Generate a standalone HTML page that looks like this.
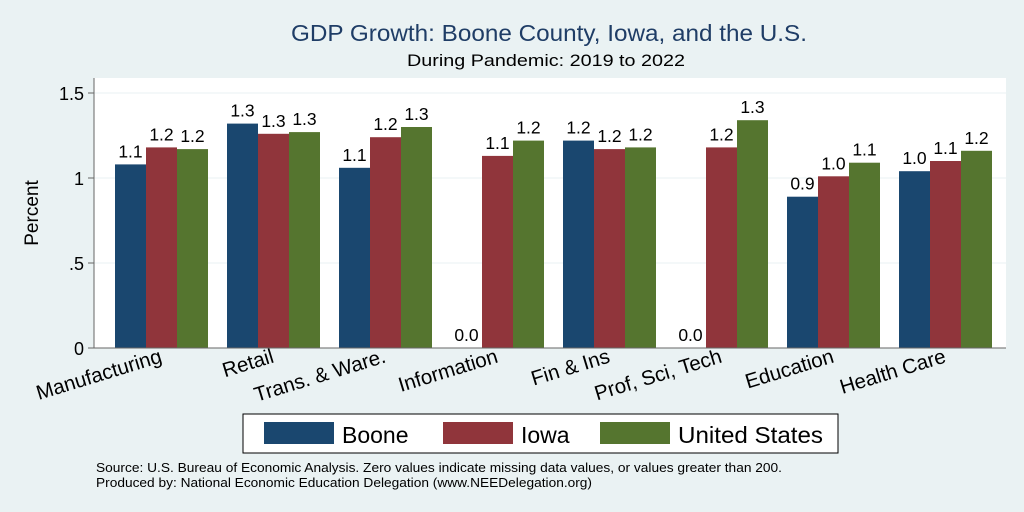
<!DOCTYPE html>
<html><head><meta charset="utf-8"><style>body{margin:0;background:#eaf2f3}svg{display:block;font-family:"Liberation Sans",sans-serif}</style></head>
<body>
<svg width="1024" height="512" id="c">
<rect x="0" y="0" width="1024" height="512" fill="#eaf2f3"/>
<rect x="94" y="78" width="912" height="270" fill="#fff"/>
<text x="549" y="41" font-size="23" fill="#1f3d66" text-anchor="middle" textLength="516" lengthAdjust="spacingAndGlyphs">GDP Growth: Boone County, Iowa, and the U.S.</text>
<text x="546" y="66" font-size="16.5" fill="#000" text-anchor="middle" textLength="278" lengthAdjust="spacingAndGlyphs">During Pandemic: 2019 to 2022</text>
<text x="38" y="213" font-size="19" text-anchor="middle" transform="rotate(-90 38 213)">Percent</text>
<g id="bars"></g>
<line x1="94" y1="78" x2="94" y2="348" stroke="#666"/>
<line x1="94" y1="348" x2="1006" y2="348" stroke="#666"/>
<g>
<rect x="243" y="414" width="595" height="39" fill="#fff" stroke="#000"/>
<rect x="264" y="422" width="70" height="22" fill="#1a476f"/>
<text x="342" y="443" font-size="23">Boone</text>
<rect x="443" y="422" width="70" height="22" fill="#90353b"/>
<text x="521" y="443" font-size="23">Iowa</text>
<rect x="600" y="422" width="70" height="22" fill="#55752f"/>
<text x="678" y="443" font-size="23" textLength="145" lengthAdjust="spacingAndGlyphs">United States</text>
</g>
<text x="96" y="472" font-size="13" textLength="686" lengthAdjust="spacingAndGlyphs">Source: U.S. Bureau of Economic Analysis. Zero values indicate missing data values, or values greater than 200.</text>
<text x="96" y="487" font-size="13" textLength="496" lengthAdjust="spacingAndGlyphs">Produced by: National Economic Education Delegation (www.NEEDelegation.org)</text>
</svg>
<script>
const categories=["Manufacturing","Retail","Trans. & Ware.","Information","Fin & Ins","Prof, Sci, Tech","Education","Health Care"];
const boone=[1.08,1.32,1.06,0,1.22,0,0.89,1.04];
const iowa=[1.18,1.26,1.24,1.13,1.17,1.18,1.01,1.10];
const us=[1.17,1.27,1.30,1.22,1.18,1.34,1.09,1.16];
const yTicks=[0,0.5,1,1.5];
const yTickLabels=["0",".5","1","1.5"];
const seriesNames=["boone","iowa","us"];
const colors=["#1a476f","#90353b","#55752f"];
const NS="http://www.w3.org/2000/svg";
const svg=document.getElementById('c'), g=document.getElementById('bars');
const y=v=>348-v*170;
const gx=i=>115+i*112;
const bw=31;
function mk(t,a,p){const e=document.createElementNS(NS,t);for(const k in a)e.setAttribute(k,a[k]);(p||g).appendChild(e);return e;}
yTicks.forEach((t,i)=>{
 if(t>0){const l=mk('line',{x1:94,x2:1006,y1:y(t),y2:y(t),stroke:'#eaf2f3'});
 
 }
 const k=mk('line',{x1:88,x2:94,y1:y(t),y2:y(t),stroke:'#666'});
 
 
 const tx=mk('text',{x:84,y:y(t)+7,'font-size':18,'text-anchor':'end'});tx.textContent=yTickLabels[i];
 
 
});
[boone,iowa,us].forEach((s,si)=>{
 s.forEach((v,i)=>{
  const x=gx(i)+si*bw;
  const r=mk('rect',{x:x,y:y(v),width:bw,height:348-y(v),fill:colors[si]});
  
  
  const t=mk('text',{x:x+bw/2,y:y(v)-7,'font-size':17.5,'text-anchor':'middle'});t.textContent=v.toFixed(1);
  
  
 });
});
categories.forEach((c,i)=>{
 const cx=gx(i)+48;
 const t=mk('text',{x:cx,y:362,'font-size':20.5,'text-anchor':'end',transform:`rotate(-17 ${cx} 362)`});t.textContent=c;
 
 
});
</script>
</body></html>
